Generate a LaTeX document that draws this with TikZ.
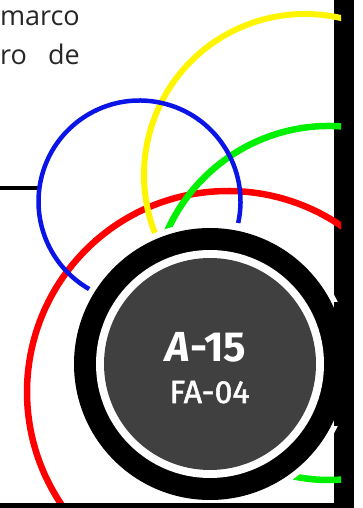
\documentclass[tikz,border=0pt]{standalone}
\usepackage{fontspec}
\newfontfamily\bodyfont{Open Sans}
\newfontfamily\circfont{Fira Sans}
\newfontfamily\circmed{Fira Sans}[FakeBold=1.6]
\definecolor{ringgray}{HTML}{404040}
\definecolor{arcred}{HTML}{FF0000}
\definecolor{arcgreen}{HTML}{00F000}
\definecolor{arcblue}{HTML}{0A14E6}
\definecolor{arcyellow}{HTML}{FFF500}
\tikzset{
  disc/.style={circle, inner sep=0pt, outer sep=0pt, draw=none},
  bodytext/.style={inner sep=0pt, font=\bodyfont\fontsize{27}{27}\selectfont, text=black!85},
  arcline/.style={line cap=butt},
}
\begin{document}
\begin{tikzpicture}[x=1pt,y=1pt]
\useasboundingbox (0,0) rectangle (363,508);
\clip (0,0) rectangle (363,508);
\fill[white] (0,0) rectangle (363,508);
% right bar
\fill[black] (334,0) rectangle (354,508);
% left horizontal line
\coordinate (lineL) at (0,320);
\coordinate (lineR) at (39,320);
\draw[line width=4.5pt] (lineL) -- (lineR);
% coloured arcs
\begin{scope}
\clip (0,0) rectangle (341,508);
\draw[arcline, arcred, line width=6.5pt] (228,116) ++(50:201) arc[start angle=50, end angle=222, radius=201];
\draw[arcline, arcyellow, line width=6pt] (305,333) ++(70:161) arc[start angle=70, end angle=201.1, radius=161];
\draw[arcline, arcgreen, line width=6.5pt] (329,205) ++(80:177) arc[start angle=80, end angle=280, radius=177];
\draw[arcline, arcblue, line width=4.5pt] (139.5,306.5) ++(-12.3:101) arc[start angle=-12.3, end angle=241.8, radius=101];
\end{scope}
% big badge
\node[disc, fill=white, minimum size=284pt] (halo) at (210,144) {};
\fill[black] (334,82) rectangle (354,206);
\node[disc, fill=black, minimum size=272pt] (ring) at (210,144) {};
\node[disc, fill=white, minimum size=228pt] (gap) at (210,144) {};
\node[disc, fill=ringgray, minimum size=212pt] (core) at (210,144) {};
\node[inner sep=0pt, anchor=base, text=white, font=\circfont\bfseries\fontsize{42}{42}\selectfont] (code) at (206,146) {{\itshape A}-15};
\node[inner sep=0pt, anchor=base, text=white, font=\circmed\fontsize{32}{32}\selectfont] (sub) at (209.5,105) {FA-04};
% bottom line
\fill[black] (0,0) rectangle (354,5);
% text
\node[bodytext, anchor=base east] (w1) at (80,482) {marco};
\node[bodytext, anchor=base west] (w2) at (0,443) {ro};
\node[bodytext, anchor=base east] (w3) at (80,443) {de};
\end{tikzpicture}
\end{document}
